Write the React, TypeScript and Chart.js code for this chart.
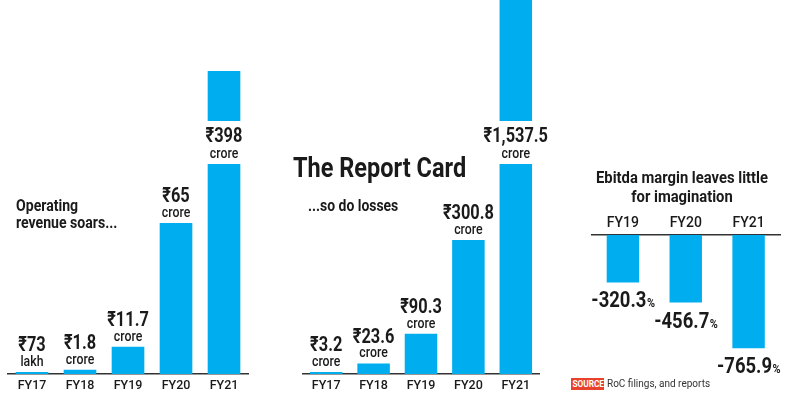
import React, { useEffect, useRef } from "react";
import { Chart, registerables } from "chart.js";

Chart.register(...registerables);

const FONT = 'Roboto, "Noto Sans", "DejaVu Sans", sans-serif';
const BLUE = "#00aeef";
const INK = "#1a1a1a";

// ---- data ----
const revenueYears = ["FY17", "FY18", "FY19", "FY20", "FY21"];
const revenueCrore = [0.0073, 1.8, 11.7, 65, 398];
const revenueText = ["₹73", "₹1.8", "₹11.7", "₹65", "₹398"];
const revenueUnit = ["lakh", "crore", "crore", "crore", "crore"];

const lossYears = ["FY17", "FY18", "FY19", "FY20", "FY21"];
const lossCrore = [3.2, 23.6, 90.3, 300.8, 1537.5];
const lossText = ["₹3.2", "₹23.6", "₹90.3", "₹300.8", "₹1,537.5"];
const lossUnit = ["crore", "crore", "crore", "crore", "crore"];

const marginYears = ["FY19", "FY20", "FY21"];
const marginPct = [-320.3, -456.7, -765.9];
const marginText = ["-320.3", "-456.7", "-765.9"];

function fillCondensed(ctx: CanvasRenderingContext2D, text: string, x: number, y: number, k: number) {
  ctx.save();
  ctx.translate(x, y);
  ctx.scale(k, 1);
  ctx.fillText(text, 0, 0);
  ctx.restore();
}

function makeUpLabels(values: string[], units: string[], breakTop: number, breakBottom: number) {
  return {
    id: "upLabels",
    afterDatasetsDraw(chart: any) {
      const { ctx } = chart;
      const meta = chart.getDatasetMeta(0);
      const yScale = chart.scales.y;
      const data = chart.data.datasets[0].data as number[];
      ctx.save();
      ctx.textAlign = "center";
      ctx.textBaseline = "middle";
      meta.data.forEach((bar: any, i: number) => {
        const v = data[i];
        const x = bar.x;
        const w = bar.width;
        let valueY: number;
        let unitY: number;
        if (v > yScale.max) {
          ctx.fillStyle = "#ffffff";
          ctx.fillRect(x - w / 2 - 1, breakTop, w + 2, breakBottom - breakTop);
          valueY = breakTop + 16;
          unitY = breakTop + 33;
        } else {
          valueY = bar.y - 26;
          unitY = bar.y - 9.5;
        }
        ctx.fillStyle = INK;
        ctx.font = `bold 21px ${FONT}`;
        fillCondensed(ctx, values[i], x, valueY, 0.78);
        ctx.font = `500 14px ${FONT}`;
        fillCondensed(ctx, units[i], x, unitY, 0.88);
      });
      ctx.restore();
    },
  };
}

function makeDownLabels(values: string[]) {
  return {
    id: "downLabels",
    afterDatasetsDraw(chart: any) {
      const { ctx } = chart;
      const meta = chart.getDatasetMeta(0);
      const k = 0.84;
      ctx.save();
      ctx.textBaseline = "alphabetic";
      ctx.textAlign = "left";
      meta.data.forEach((bar: any, i: number) => {
        const bigFont = `bold 22px ${FONT}`;
        const smallFont = `bold 13px ${FONT}`;
        ctx.font = bigFont;
        const w1 = ctx.measureText(values[i]).width * k;
        ctx.font = smallFont;
        const w2 = ctx.measureText("%").width * k;
        const start = bar.x - (w1 + w2) / 2;
        const base = bar.y + 25;
        ctx.fillStyle = INK;
        ctx.font = bigFont;
        fillCondensed(ctx, values[i], start, base, k);
        ctx.font = smallFont;
        fillCondensed(ctx, "%", start + w1 + 0.5, base, k);
      });
      ctx.restore();
    },
  };
}

type PanelProps = {
  left: number;
  width: number;
  height: number;
  labels: string[];
  values: number[];
  min: number;
  max: number;
  padding: { left: number; right: number; top: number; bottom: number };
  axisPosition: "top" | "bottom";
  axisHeight: number;
  tickSize: number;
  tickPadding: number;
  barPercentage: number;
  plugin: any;
};

function Panel(p: PanelProps) {
  const ref = useRef<HTMLCanvasElement | null>(null);
  useEffect(() => {
    if (!ref.current) return;
    const chart = new Chart(ref.current, {
      type: "bar",
      data: {
        labels: p.labels,
        datasets: [
          {
            data: p.values,
            backgroundColor: BLUE,
            borderWidth: 0,
            barPercentage: p.barPercentage,
            categoryPercentage: 1,
            minBarLength: 2,
            clip: 0 as any,
          },
        ],
      },
      options: {
        responsive: false,
        animation: false,
        events: [],
        layout: { padding: p.padding },
        plugins: { legend: { display: false }, tooltip: { enabled: false } },
        scales: {
          x: {
            position: p.axisPosition,
            grid: { display: false, drawTicks: false },
            border: { display: true, color: "#333333", width: 1.5 },
            ticks: {
              color: INK,
              padding: p.tickPadding,
              font: { family: FONT, size: p.tickSize, weight: "500" },
            },
            afterFit: (s: any) => {
              s.height = p.axisHeight;
            },
          } as any,
          y: { display: false, min: p.min, max: p.max },
        },
      },
      plugins: [p.plugin],
    });
    return () => chart.destroy();
  }, []);
  return (
    <canvas
      ref={ref}
      width={p.width}
      height={p.height}
      style={{ position: "absolute", left: p.left, top: 0, width: p.width, height: p.height }}
    />
  );
}

const textBase: React.CSSProperties = {
  position: "absolute",
  fontFamily: FONT,
  fontWeight: 700,
  color: INK,
  whiteSpace: "nowrap",
  margin: 0,
};

export default function App() {
  return (
    <div
      style={{
        position: "absolute",
        left: 0,
        top: 0,
        width: 800,
        height: 397,
        overflow: "hidden",
        background: "#ffffff",
      }}
    >
      <Panel
        left={0}
        width={260}
        height={397}
        labels={revenueYears}
        values={revenueCrore}
        min={0}
        max={130.4}
        padding={{ left: 8, right: 12, top: 71, bottom: 0 }}
        axisPosition="bottom"
        axisHeight={23}
        tickSize={12.5}
        tickPadding={4}
        barPercentage={0.68}
        plugin={makeUpLabels(revenueText, revenueUnit, 121, 164)}
      />
      <Panel
        left={280}
        width={270}
        height={397}
        labels={lossYears}
        values={lossCrore}
        min={0}
        max={840}
        padding={{ left: 22.5, right: 10.5, top: 0, bottom: 0 }}
        axisPosition="bottom"
        axisHeight={23}
        tickSize={12.5}
        tickPadding={4}
        barPercentage={0.686}
        plugin={makeUpLabels(lossText, lossUnit, 121, 164)}
      />
      <Panel
        left={560}
        width={240}
        height={397}
        labels={marginYears}
        values={marginPct}
        min={-912}
        max={0}
        padding={{ left: 31.5, right: 20, top: 213, bottom: 27 }}
        axisPosition="top"
        axisHeight={22}
        tickSize={14}
        tickPadding={3}
        barPercentage={0.516}
        plugin={makeDownLabels(marginText)}
      />

      <div
        style={{
          ...textBase,
          left: 16,
          top: 197,
          fontSize: 16,
          lineHeight: "17px",
          transform: "scaleX(0.88)",
          transformOrigin: "left top",
        }}
      >
        Operating
        <br />
        revenue soars...
      </div>
      <div
        style={{
          ...textBase,
          left: 293,
          top: 151,
          fontSize: 28,
          lineHeight: "34px",
          transform: "scaleX(0.84)",
          transformOrigin: "left top",
        }}
      >
        The Report Card
      </div>
      <div
        style={{
          ...textBase,
          left: 308,
          top: 197,
          fontSize: 16,
          lineHeight: "18px",
          transform: "scaleX(0.87)",
          transformOrigin: "left top",
        }}
      >
        ...so do losses
      </div>
      <div
        style={{
          ...textBase,
          left: 682,
          top: 168,
          textAlign: "center",
          fontSize: 17,
          lineHeight: "19px",
          transform: "translateX(-50%) scaleX(0.87)",
          transformOrigin: "center top",
        }}
      >
        Ebitda margin leaves little
        <br />
        for imagination
      </div>
      <div
        style={{
          ...textBase,
          left: 571,
          top: 378,
          width: 33,
          height: 12,
          textAlign: "center",
          background: "#e8412c",
          color: "#ffffff",
          fontSize: 9,
          lineHeight: "12px",
          overflow: "hidden",
        }}
      >
        <span style={{ display: "inline-block", transform: "scaleX(0.92)" }}>SOURCE</span>
      </div>
      <div
        style={{
          ...textBase,
          left: 607,
          top: 377,
          fontWeight: 400,
          color: "#333333",
          fontSize: 10,
          lineHeight: "14px",
        }}
      >
        RoC filings, and reports
      </div>
    </div>
  );
}
